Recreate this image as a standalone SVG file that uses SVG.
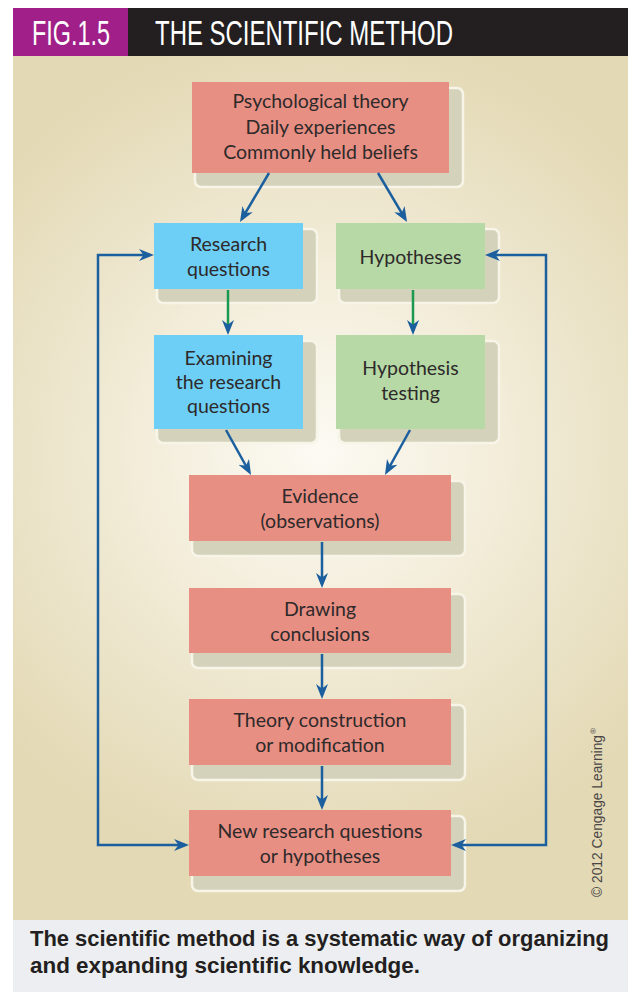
<svg xmlns="http://www.w3.org/2000/svg" width="628" height="992" viewBox="0 0 628 992">
<defs>
<radialGradient id="bg" cx="320" cy="450" r="420" gradientUnits="userSpaceOnUse">
<stop offset="0" stop-color="#fcfaf3"/>
<stop offset="0.45" stop-color="#f2ecd8"/>
<stop offset="1" stop-color="#e3d9b5"/>
</radialGradient>
<filter id="soft" x="-5%" y="-5%" width="110%" height="110%"><feGaussianBlur stdDeviation="0.7"/></filter>
<marker id="ah" markerUnits="userSpaceOnUse" markerWidth="16" markerHeight="13" refX="11" refY="6" orient="auto-start-reverse" viewBox="0 0 16 12">
<path d="M0,0 L15,6 L0,12 L4.5,6 Z" fill="#1b5f9e"/>
</marker>
</defs>
<style>
.sh{fill:#d4d2ba;stroke:#f7f4e8;stroke-width:2.5;filter:url(#soft)}
.pk{fill:#e88f84}
.bl{fill:#6dcff6}
.gr{fill:#b6d9a6}
.t{font-family:Lato,"Open Sans","Liberation Sans",sans-serif;font-size:19.5px;fill:#2e2a2a;text-anchor:middle}
.c{fill:none;stroke:#1b5f9e;stroke-width:2.5;marker-end:url(#ah)}
.g{fill:none;stroke:#1a9a50;stroke-width:2.5;marker-end:url(#ah)}
</style>
<rect x="0" y="0" width="628" height="992" fill="#ffffff"/>
<rect x="13" y="56" width="615" height="864" fill="url(#bg)"/>
<rect x="13" y="920" width="615" height="72" fill="#eceef1"/>
<g id="header">
<rect x="13" y="8" width="615" height="48" fill="#231f20"/>
<rect x="13" y="8" width="115" height="48" fill="#a01f88"/>
<text x="32" y="45" font-family="'Liberation Sans',sans-serif" font-size="35" fill="#ffffff" textLength="78" lengthAdjust="spacingAndGlyphs">FIG.1.5</text>
<text x="155" y="45" font-family="'Liberation Sans',sans-serif" font-size="35" fill="#ffffff" textLength="298" lengthAdjust="spacingAndGlyphs">THE SCIENTIFIC METHOD</text>
</g>
<g id="sources">
<rect class="sh" x="195" y="88" width="268" height="99" rx="6"/>
<rect class="pk" x="192" y="82" width="257" height="91"/>
<text class="t" x="320.5" y="108">Psychological theory</text>
<text class="t" x="320.5" y="134">Daily experiences</text>
<text class="t" x="320.5" y="159">Commonly held beliefs</text>
</g>
<g id="research-questions">
<rect class="sh" x="157" y="229" width="160" height="74" rx="6"/>
<rect class="bl" x="154" y="223" width="149" height="66"/>
<text class="t" x="228.5" y="251">Research</text>
<text class="t" x="228.5" y="276">questions</text>
</g>
<g id="hypotheses">
<rect class="sh" x="339" y="229" width="160" height="74" rx="6"/>
<rect class="gr" x="336" y="223" width="149" height="66"/>
<text class="t" x="410.5" y="264">Hypotheses</text>
</g>
<g id="examining">
<rect class="sh" x="157" y="341" width="160" height="102" rx="6"/>
<rect class="bl" x="154" y="335" width="149" height="94"/>
<text class="t" x="228.5" y="365">Examining</text>
<text class="t" x="228.5" y="389">the research</text>
<text class="t" x="228.5" y="413">questions</text>
</g>
<g id="hypothesis-testing">
<rect class="sh" x="339" y="341" width="160" height="102" rx="6"/>
<rect class="gr" x="336" y="335" width="149" height="94"/>
<text class="t" x="410.5" y="375">Hypothesis</text>
<text class="t" x="410.5" y="400">testing</text>
</g>
<g id="evidence">
<rect class="sh" x="192" y="481" width="273" height="75" rx="6"/>
<rect class="pk" x="189" y="475" width="262" height="66"/>
<text class="t" x="320" y="503">Evidence</text>
<text class="t" x="320" y="528">(observations)</text>
</g>
<g id="drawing-conclusions">
<rect class="sh" x="192" y="594" width="273" height="74" rx="6"/>
<rect class="pk" x="189" y="588" width="262" height="65"/>
<text class="t" x="320" y="616">Drawing</text>
<text class="t" x="320" y="641">conclusions</text>
</g>
<g id="theory-construction">
<rect class="sh" x="192" y="705" width="273" height="75" rx="6"/>
<rect class="pk" x="189" y="699" width="262" height="66"/>
<text class="t" x="320" y="727">Theory construction</text>
<text class="t" x="320" y="752">or modification</text>
</g>
<g id="new-questions">
<rect class="sh" x="192" y="816" width="273" height="75" rx="6"/>
<rect class="pk" x="189" y="810" width="262" height="66"/>
<text class="t" x="320" y="838">New research questions</text>
<text class="t" x="320" y="863">or hypotheses</text>
</g>
<g id="connectors">
<path class="c" d="M269,173 L242,218.6"/>
<path class="c" d="M378,173 L405,218.6"/>
<path class="g" d="M228,290 V331"/>
<path class="g" d="M413,290 V331"/>
<path class="c" d="M226,430 L249.1,471.5"/>
<path class="c" d="M410,430 L386.9,471.5"/>
<path class="c" d="M322,542 V584"/>
<path class="c" d="M322,654 V695"/>
<path class="c" d="M322,766 V806"/>
<path class="c" d="M150,255 H98 V845 H185" style="marker-start:url(#ah)"/>
<path class="c" d="M489,255 H546 V845 H455" style="marker-start:url(#ah)"/>
</g>
<text transform="translate(602,897) rotate(-90)" font-family="'Liberation Sans',sans-serif" font-size="14" fill="#4a4646" textLength="162" lengthAdjust="spacingAndGlyphs">© 2012 Cengage Learning</text>
<text transform="translate(596,734) rotate(-90)" font-family="'Liberation Sans',sans-serif" font-size="8" fill="#4a4646">®</text>
<g id="caption">
<text x="30" y="946" font-family="'Liberation Sans',sans-serif" font-weight="bold" font-size="22" fill="#231f20" textLength="579" lengthAdjust="spacingAndGlyphs">The scientific method is a systematic way of organizing</text>
<text x="30" y="973" font-family="'Liberation Sans',sans-serif" font-weight="bold" font-size="22" fill="#231f20" textLength="390" lengthAdjust="spacingAndGlyphs">and expanding scientific knowledge.</text>
</g>
</svg>
